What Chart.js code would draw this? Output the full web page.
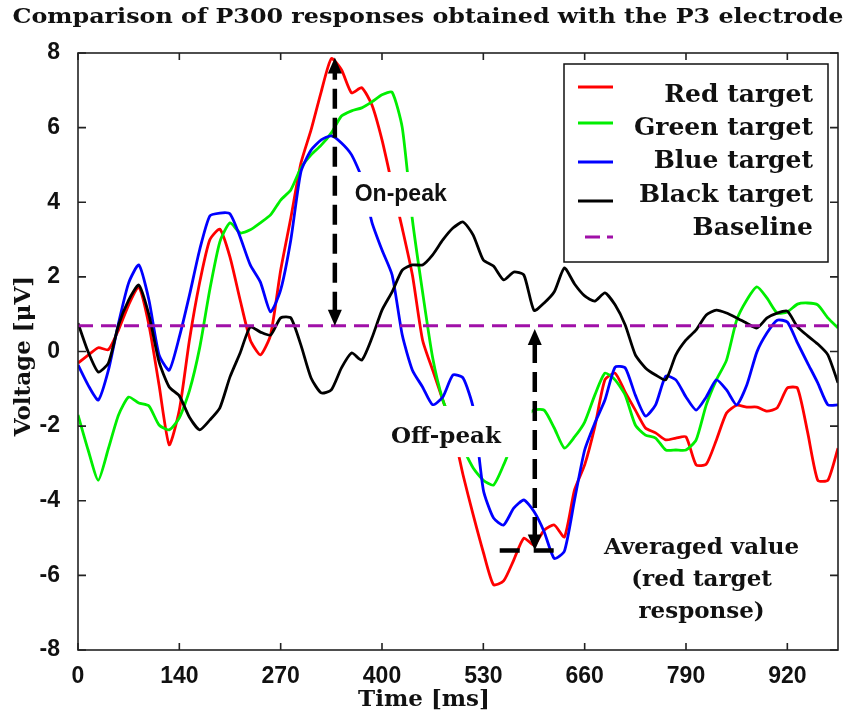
<!DOCTYPE html>
<html>
<head>
<meta charset="utf-8">
<script src="https://cdn.jsdelivr.net/npm/chart.js"></script>
<style>
  html, body { margin: 0; padding: 0; background: #fff; }
  #wrap { width: 856px; height: 718px; position: relative; }
</style>
</head>
<body>
<div id="wrap"><canvas id="p300Chart"></canvas></div>
<script>
// ===============================
// DATA
// ===============================
// x positions are in tick units: ticks sit every 130 units, labelled below
const xTickPos = [0, 130, 260, 390, 520, 650, 780, 910];
const timeLabels = ['0', '140', '270', '400', '530', '660', '790', '920'];
const yTickPos = [-8, -6, -4, -2, 0, 2, 4, 6, 8];

const timeMs = [
  0, 13, 26, 39, 52, 65, 78, 91, 104, 117, 130, 143, 156, 169, 182, 195, 208, 221, 234, 247,
  260, 273, 286, 299, 312, 325, 338, 351, 364, 377, 390, 403, 416, 429, 442, 455, 468, 481, 494, 507,
  520, 533, 546, 559, 572, 585, 598, 611, 624, 637, 650, 663, 676, 689, 702, 715, 728, 741, 754, 767,
  780, 793, 806, 819, 832, 845, 858, 871, 884, 897, 910, 923, 936, 949, 962, 975
];

const redTarget = [
  -0.31, -0.10, 0.10, 0.05, 0.58, 1.25, 1.73, 0.71, -0.90, -2.50,
  -1.57, 0.31, 1.84, 2.99, 3.28, 2.53, 1.38, 0.31, -0.09, 0.44,
  2.18, 3.58, 5.05, 5.94, 6.96, 7.85, 7.55, 6.93, 7.07, 6.61,
  5.67, 4.47, 3.30, 2.05, 0.31, -0.50, -1.30, -2.10, -3.31, -4.38,
  -5.38, -6.25, -6.15, -5.59, -5.00, -5.19, -4.79, -4.65, -4.97, -3.71,
  -3.04, -2.02, -0.76, -0.58, -1.09, -1.57, -2.05, -2.18, -2.37, -2.32,
  -2.29, -3.04, -3.02, -2.37, -1.65, -1.44, -1.49, -1.49, -1.60, -1.51,
  -0.98, -0.98, -2.16, -3.45, -3.45, -2.59
];

const greenTarget = [
  -1.70, -2.64, -3.45, -2.60, -1.70, -1.22, -1.38, -1.46, -1.97, -2.10,
  -1.78, -1.05, 0.09, 1.65, 2.94, 3.45, 3.18, 3.26, 3.45, 3.66,
  4.06, 4.33, 4.92, 5.27, 5.53, 5.86, 6.31, 6.45, 6.53, 6.69,
  6.88, 6.95, 6.00, 3.53, 1.60, -0.17, -1.30, -1.97, -2.59, -3.12,
  -3.45, -3.58, -3.04, -2.37, -1.78, -1.57, -1.57, -2.05, -2.59, -2.29,
  -1.89, -1.17, -0.58, -0.76, -1.17, -1.97, -2.24, -2.32, -2.64, -2.64,
  -2.64, -2.37, -1.43, -0.76, -0.23, 0.84, 1.38, 1.73, 1.43, 1.03,
  1.06, 1.27, 1.30, 1.25, 0.90, 0.63
];

const blueTarget = [
  -0.36, -0.90, -1.30, -0.50, 0.76, 1.84, 2.32, 1.38, -0.09, -0.50,
  0.39, 1.51, 2.72, 3.63, 3.71, 3.69, 3.07, 2.32, 1.86, 1.06,
  1.65, 2.99, 4.82, 5.40, 5.67, 5.78, 5.59, 5.27, 4.65, 3.47,
  2.72, 2.05, 0.44, -0.50, -0.95, -1.43, -1.22, -0.63, -0.71, -1.51,
  -3.71, -4.46, -4.65, -4.20, -3.98, -4.29, -4.83, -5.55, -5.35, -3.98,
  -2.64, -1.92, -1.30, -0.42, -0.44, -1.17, -1.73, -1.43, -0.66, -0.76,
  -1.22, -1.57, -1.22, -0.76, -1.03, -1.43, -0.90, -0.01, 0.50, 0.84,
  0.79, 0.23, -0.31, -0.84, -1.43, -1.43
];

const blackTarget = [
  0.76, -0.01, -0.55, -0.31, 0.71, 1.38, 1.78, 0.98, -0.28, -0.95,
  -1.19, -1.76, -2.10, -1.84, -1.51, -0.68, -0.04, 0.66, 0.52, 0.44,
  0.90, 0.90, 0.17, -0.71, -1.11, -1.03, -0.44, -0.04, -0.23, 0.36,
  1.11, 1.60, 2.18, 2.32, 2.32, 2.59, 2.99, 3.31, 3.47, 3.12,
  2.45, 2.29, 1.92, 2.13, 2.05, 1.10, 1.30, 1.60, 2.24, 1.81,
  1.49, 1.35, 1.57, 1.25, 0.71, -0.09, -0.44, -0.63, -0.76, -0.09,
  0.31, 0.58, 0.98, 1.11, 1.03, 0.90, 0.76, 0.63, 0.90, 1.03,
  1.08, 0.66, 0.42, 0.20, -0.09, -0.84
];

const baselineLevel = 0.69;
const averagedValue = -5.33;

// ===============================
// STYLE
// ===============================
const SERIF = '"DejaVu Serif", serif';
const SANS = '"Liberation Sans", Arial, sans-serif';
const seriesColors = ['#ff0000', '#00ee00', '#0000ff', '#000000'];
const baselineColor = '#a010a8';

const toPoints = vals => timeMs.map((t, i) => ({ x: t, y: vals[i] }));

function lineSet(label, vals, color, order) {
  return {
    label, data: toPoints(vals), borderColor: color, backgroundColor: color,
    borderWidth: 2.8, pointRadius: 0, tension: 0.2, fill: false, order
  };
}

// ===============================
// Annotations, frame, legend (drawn on top)
// ===============================
function arrowHead(c, x, y, dir) {
  c.beginPath();
  c.moveTo(x, y);
  c.lineTo(x - 7, y - dir * 16);
  c.lineTo(x + 7, y - dir * 16);
  c.closePath();
  c.fill();
}

function dashedArrow(c, px, yA, yB) {
  const dirB = yB > yA ? 1 : -1;
  c.save();
  c.strokeStyle = '#000';
  c.fillStyle = '#000';
  c.lineWidth = 4.5;
  c.setLineDash([20, 9]);
  c.beginPath();
  c.moveTo(px, yA + dirB * 14);
  c.lineTo(px, yB - dirB * 14);
  c.stroke();
  c.setLineDash([]);
  arrowHead(c, px, yA, -dirB);
  arrowHead(c, px, yB, dirB);
  c.restore();
}

// draw text squeezed/stretched to a target width (for the wide LaTeX-like title)
function fitText(c, text, cx, cy, width) {
  const w = c.measureText(text).width;
  c.save();
  c.translate(cx, cy);
  c.scale(width / w, 1);
  c.fillText(text, 0, 0);
  c.restore();
}

const annotate = {
  id: 'annotate',
  afterDatasetsDraw(chart) {
    const { ctx: c, scales: { x, y }, chartArea: a } = chart;
    c.save();

    // white patches behind the two labels (they hide the curves there)
    c.fillStyle = '#fff';
    [[338, 485, 4.81, 3.61], [391, 582, -1.46, -2.83]].forEach(b => {
      const x0 = x.getPixelForValue(b[0]), x1 = x.getPixelForValue(b[1]);
      const y0 = y.getPixelForValue(b[2]), y1 = y.getPixelForValue(b[3]);
      c.fillRect(x0, y0, x1 - x0, y1 - y0);
    });

    // on-peak / off-peak arrows
    dashedArrow(c, x.getPixelForValue(329.5), y.getPixelForValue(baselineLevel), y.getPixelForValue(7.88));
    dashedArrow(c, x.getPixelForValue(586), y.getPixelForValue(0.6), y.getPixelForValue(averagedValue));

    // averaged value marker
    c.strokeStyle = '#000';
    c.lineWidth = 4.5;
    c.setLineDash([20, 14]);
    c.beginPath();
    c.moveTo(x.getPixelForValue(541), y.getPixelForValue(averagedValue));
    c.lineTo(x.getPixelForValue(614), y.getPixelForValue(averagedValue));
    c.stroke();
    c.setLineDash([]);

    // text labels
    c.fillStyle = '#111';
    c.textAlign = 'center';
    c.textBaseline = 'middle';
    c.font = 'bold 23px ' + SANS;
    c.fillText('On-peak', x.getPixelForValue(414), y.getPixelForValue(4.2));
    c.font = 'bold 23px ' + SERIF;
    c.fillText('Off-peak', x.getPixelForValue(472), y.getPixelForValue(-2.29));
    c.fillText('Averaged value', x.getPixelForValue(800), y.getPixelForValue(-5.27));
    c.fillText('(red target', x.getPixelForValue(800), y.getPixelForValue(-6.13));
    c.fillText('response)', x.getPixelForValue(800), y.getPixelForValue(-6.98));

    // frame with inward ticks
    c.strokeStyle = '#222';
    c.lineWidth = 1.6;
    c.strokeRect(a.left, a.top, a.right - a.left, a.bottom - a.top);
    c.beginPath();
    xTickPos.forEach(v => {
      const px = x.getPixelForValue(v);
      c.moveTo(px, a.bottom); c.lineTo(px, a.bottom - 7);
      c.moveTo(px, a.top); c.lineTo(px, a.top + 7);
    });
    yTickPos.forEach(v => {
      const py = y.getPixelForValue(v);
      c.moveTo(a.left, py); c.lineTo(a.left + 8, py);
      c.moveTo(a.right, py); c.lineTo(a.right - 8, py);
    });
    c.stroke();

    // legend
    const lx0 = 564, ly0 = 64, lx1 = 828, ly1 = 262;
    c.fillStyle = '#fff';
    c.fillRect(lx0, ly0, lx1 - lx0, ly1 - ly0);
    c.strokeStyle = '#111';
    c.lineWidth = 1.5;
    c.strokeRect(lx0, ly0, lx1 - lx0, ly1 - ly0);
    const sampleY = [87, 123, 162, 201, 237];
    const textY = [102, 135, 168, 202, 235];
    const items = chart.data.datasets.slice().sort((p, q) => p.legendRank - q.legendRank);
    c.font = 'bold 25px ' + SERIF;
    c.textAlign = 'right';
    c.textBaseline = 'alphabetic';
    items.forEach((ds, i) => {
      c.strokeStyle = ds.borderColor;
      c.lineWidth = 2.8;
      c.beginPath();
      if (ds.borderDash) {
        c.moveTo(585, sampleY[i]); c.lineTo(600, sampleY[i]);
        c.moveTo(607, sampleY[i]); c.lineTo(613, sampleY[i]);
      } else {
        c.moveTo(578, sampleY[i]); c.lineTo(613, sampleY[i]);
      }
      c.stroke();
      c.fillStyle = '#111';
      c.fillText(ds.label, 813, textY[i]);
    });
    c.restore();
  },
  afterDraw(chart) {
    const c = chart.ctx;
    c.save();
    c.fillStyle = '#111';
    c.textAlign = 'center';
    c.textBaseline = 'middle';
    c.font = 'bold 21px ' + SERIF;
    fitText(c, 'Comparison of P300 responses obtained with the P3 electrode', 428, 18, 831);
    c.font = 'bold 23px ' + SERIF;
    c.fillText('Time [ms]', 424, 700);
    c.translate(24, 356);
    c.rotate(-Math.PI / 2);
    c.fillText('Voltage [\u03bcV]', 0, 0);
    c.restore();
  }
};

// ===============================
// CHART
// ===============================
const datasets = [
  lineSet('Red target', redTarget, seriesColors[0], 4),
  lineSet('Green target', greenTarget, seriesColors[1], 3),
  lineSet('Blue target', blueTarget, seriesColors[2], 2),
  lineSet('Black target', blackTarget, seriesColors[3], 1),
  {
    label: 'Baseline',
    data: [{ x: timeMs[0], y: baselineLevel }, { x: timeMs[timeMs.length - 1], y: baselineLevel }],
    borderColor: baselineColor, borderWidth: 2.8, borderDash: [15, 8],
    pointRadius: 0, fill: false, order: 0
  }
];
datasets.forEach((ds, i) => { ds.legendRank = i; });

const tickFont = { family: SANS, size: 23, weight: 'bold' };

new Chart(document.getElementById('p300Chart'), {
  type: 'line',
  data: { datasets },
  options: {
    responsive: true,
    maintainAspectRatio: false,
    animation: false,
    layout: { padding: { top: 53, right: 18, left: 0, bottom: 0 } },
    plugins: { legend: { display: false }, tooltip: { enabled: false } },
    scales: {
      x: {
        type: 'linear', min: 0, max: 975,
        afterBuildTicks: s => { s.ticks = xTickPos.map(v => ({ value: v })); },
        afterFit: s => { s.height = 68; },
        grid: { display: false }, border: { display: false },
        ticks: {
          autoSkip: false, maxRotation: 0, padding: 5, color: '#111', font: tickFont,
          callback: v => timeLabels[xTickPos.indexOf(v)]
        }
      },
      y: {
        min: -8, max: 8,
        afterBuildTicks: s => { s.ticks = yTickPos.map(v => ({ value: v })); },
        afterFit: s => { s.width = 78; },
        grid: { display: false }, border: { display: false },
        ticks: { padding: 10, color: '#111', font: tickFont, callback: v => String(v) }
      }
    }
  },
  plugins: [annotate]
});
</script>
</body>
</html>
